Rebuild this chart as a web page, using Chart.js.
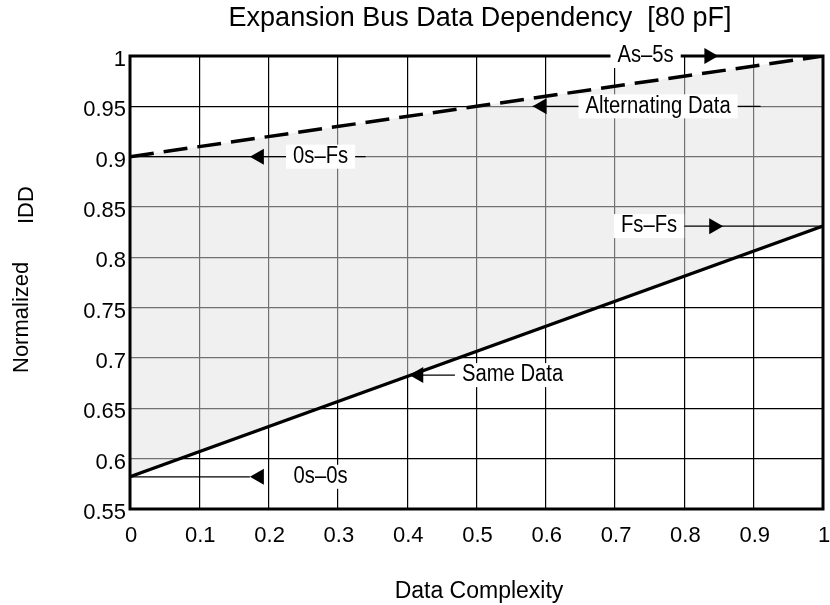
<!DOCTYPE html>
<html>
<head>
<meta charset="utf-8">
<script src="https://cdn.jsdelivr.net/npm/chart.js@4.4.1/dist/chart.umd.min.js"></script>
<style>
  html, body { margin: 0; padding: 0; background: #fff; }
  #wrap { width: 830px; height: 605px; }
</style>
</head>
<body>
<div id="wrap"><canvas id="myChart" width="830" height="605"></canvas></div>
<script>
// data
var complexity = [0, 1];
var alternatingData = [0.9, 1.0];
var sameData = [0.582, 0.831];
var xTicks = [0, 0.1, 0.2, 0.3, 0.4, 0.5, 0.6, 0.7, 0.8, 0.9, 1];
var yTicks = [0.55, 0.6, 0.65, 0.7, 0.75, 0.8, 0.85, 0.9, 0.95, 1];

// callout labels (data coordinates)
var noteText = ['As\u20135s', 'Alternating Data', '0s\u2013Fs', 'Fs\u2013Fs', 'Same Data', '0s\u20130s'];
var noteX = [0.744, 0.762, 0.275, 0.749, 0.552, 0.275];
var noteY = [1.0, 0.95, 0.9, 0.831, 0.683, 0.582];
var arrowX = [0.849, 0.581, 0.173, 0.856, 0.403, 0.173];
var arrowDir = [1, -1, -1, 1, -1, -1];
var lineFrom = [0.744, 0.581, 0, 0.749, 0.403, 0];
var lineTo = [1, 0.91, 0.34, 1, 0.47, 0.173];

var FONT = '"Liberation Sans", Arial, sans-serif';

var calloutPlugin = {
    id: 'callouts',
    afterDatasetsDraw: function (chart) {
        var ctx = chart.ctx;
        var xs = chart.scales.x, ys = chart.scales.y;
        var a = chart.chartArea;
        ctx.save();
        // frame
        ctx.strokeStyle = '#000';
        ctx.lineWidth = 3;
        ctx.strokeRect(a.left, a.top, a.right - a.left, a.bottom - a.top);

        ctx.font = '23px ' + FONT;
        ctx.textBaseline = 'middle';
        ctx.textAlign = 'center';
        var sx = 0.88;
        for (var i = 0; i < noteText.length; i++) {
            var py = ys.getPixelForValue(noteY[i]);
            // leader line
            ctx.strokeStyle = '#000';
            ctx.lineWidth = 1.3;
            ctx.beginPath();
            ctx.moveTo(xs.getPixelForValue(lineFrom[i]), py);
            ctx.lineTo(xs.getPixelForValue(lineTo[i]), py);
            ctx.stroke();
            // arrow head
            var tx = xs.getPixelForValue(arrowX[i]);
            var d = arrowDir[i];
            ctx.fillStyle = '#000';
            ctx.beginPath();
            ctx.moveTo(tx, py);
            ctx.lineTo(tx - d * 14, py - 8);
            ctx.lineTo(tx - d * 14, py + 8);
            ctx.closePath();
            ctx.fill();
            // label with white box
            var lx = xs.getPixelForValue(noteX[i]);
            var w = ctx.measureText(noteText[i]).width * sx;
            ctx.fillStyle = '#fff';
            ctx.fillRect(lx - w / 2 - 7, py - 12, w + 14, 24);
            ctx.fillStyle = '#000';
            ctx.save();
            ctx.translate(lx, py);
            ctx.scale(sx, 1);
            ctx.fillText(noteText[i], 0, 0);
            ctx.restore();
        }

        // titles
        ctx.font = '27px ' + FONT;
        ctx.fillText('Expansion Bus Data Dependency  [80 pF]', 480, 19);
        ctx.font = '23px ' + FONT;
        ctx.fillText('Data Complexity', 479, 592);

        // y title with subscript
        ctx.translate(28, 373);
        ctx.rotate(-Math.PI / 2);
        ctx.font = '22px ' + FONT;
        ctx.textAlign = 'left';
        ctx.textBaseline = 'alphabetic';
        ctx.fillText('Normalized', 0, 0);
        ctx.fillText('I', 149, 5);
        ctx.fillText('DD', 149 + ctx.measureText('I').width, 5);
        ctx.restore();
    }
};

new Chart(document.getElementById('myChart'), {
    type: 'line',
    data: {
        labels: complexity,
        datasets: [{
            label: 'Alternating Data',
            data: complexity.map(function (x, i) { return {x: x, y: alternatingData[i]}; }),
            borderColor: '#000',
            borderWidth: 3.5,
            borderDash: [24, 10],
            pointRadius: 0,
            fill: false
        }, {
            label: 'Same Data',
            data: complexity.map(function (x, i) { return {x: x, y: sameData[i]}; }),
            borderColor: '#000',
            borderWidth: 3.2,
            pointRadius: 0,
            backgroundColor: 'rgba(225,225,225,0.5)',
            fill: 0
        }]
    },
    options: {
        responsive: false,
        animation: false,
        layout: { padding: { top: 56, right: 7, left: 0, bottom: 0 } },
        plugins: {
            legend: { display: false },
            tooltip: { enabled: false },
            title: { display: false }
        },
        scales: {
            x: {
                type: 'linear',
                min: 0, max: 1,
                afterBuildTicks: function (s) { s.ticks = xTicks.map(function (v) { return {value: v}; }); },
                afterFit: function (s) { s.height = 96; s.paddingLeft = 0; s.paddingRight = 0; },
                grid: { color: '#000', lineWidth: 1.2, drawTicks: false },
                border: { display: false },
                ticks: {
                    color: '#000', padding: 14, labelOffset: 1, maxRotation: 0,
                    font: { family: FONT, size: 22 },
                    callback: function (v) { return String(v); }
                }
            },
            y: {
                type: 'linear',
                min: 0.55, max: 1,
                afterBuildTicks: function (s) { s.ticks = yTicks.map(function (v) { return {value: v}; }); },
                afterFit: function (s) { s.width = 130; s.paddingTop = 0; s.paddingBottom = 0; },
                grid: { color: '#000', lineWidth: 1.2, drawTicks: false },
                border: { display: false },
                ticks: {
                    color: '#000', padding: 4, labelOffset: 4,
                    font: { family: FONT, size: 22 },
                    callback: function (v) { return String(v); }
                }
            }
        }
    },
    plugins: [calloutPlugin]
});
</script>
</body>
</html>
